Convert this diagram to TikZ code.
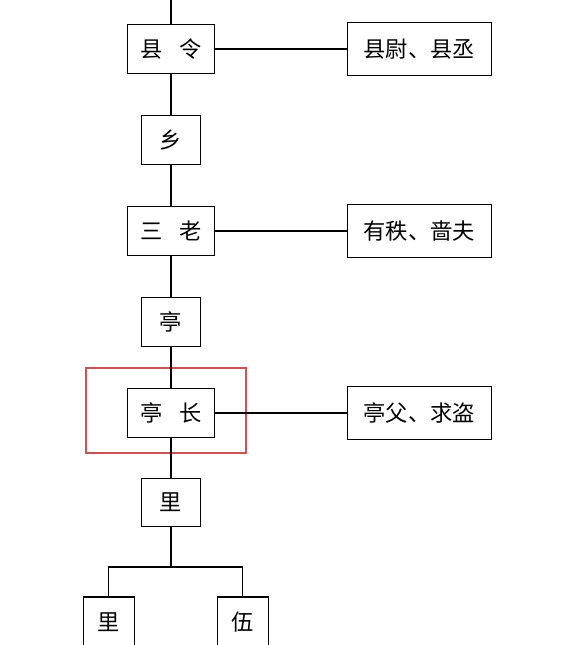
\documentclass[tikz,border=0pt]{standalone}
\usepackage{fontspec}
\setmainfont{Noto Sans CJK SC}
\definecolor{hired}{RGB}{205,82,82}
\tikzset{node distance=2.73cm, auto}
\tikzset{box/.style={draw, line width=1pt, inner sep=0pt, font=\fontsize{19pt}{22pt}\selectfont},
  wide/.style={box, minimum width=2.61cm, minimum height=1.46cm},
  narrow/.style={box, minimum width=1.77cm, minimum height=1.45cm},
  side/.style={box, minimum width=4.32cm, minimum height=1.6cm},
  hilite/.style={draw=hired, line width=2.2pt, minimum width=4.8cm, minimum height=2.55cm}}

\begin{document}
\begin{tikzpicture}[line width=1pt]
  \useasboundingbox (0,0) rectangle (16.8,-19.35);
  \clip (0,0) rectangle (16.8,-19.35);

  \node (mark) [hilite] at (4.98,-12.315) {};

  \node (xianling) [wide] at (5.13,-1.47) {县\hspace{0.75em}令};
  \node (xiang)[narrow, below of= xianling] {乡};
  \node (sanlao)[wide, below of= xiang] {三\hspace{0.75em}老};
  \node (ting)[narrow, below of= sanlao] {亭};
  \node (tingzhang)[wide, below of= ting] {亭\hspace{0.75em}长};
  \node (li)[narrow, below of= tingzhang, node distance=2.68cm] {里};

  \node (xianwei)[side, right of= xianling, node distance=7.45cm] {县尉、县丞};
  \node (youzhi)[side, right of= sanlao, node distance=7.45cm] {有秩、啬夫};
  \node (tingfu)[side, right of= tingzhang, node distance=7.45cm] {亭父、求盗};

  \node (lisub) [box, minimum width=1.53cm, minimum height=1.5cm] at (3.26,-18.66) {里};
  \node (wu) [box, minimum width=1.53cm, minimum height=1.5cm] at (7.28,-18.66) {伍};

  \coordinate (top) at (5.13,0);
  \coordinate (fork) at (5.13,-17.01);

  \draw (top) -- (xianling);
  \draw (xianling) -- (xiang);
  \draw (xiang) -- (sanlao);
  \draw (sanlao) -- (ting);
  \draw (ting) -- (tingzhang);
  \draw (tingzhang) -- (li);
  \draw (li) -- (fork);
  \draw (lisub) |- (fork) -| (wu);

  \draw (xianling) -- (xianwei);
  \draw (sanlao) -- (youzhi);
  \draw (tingzhang) -- (tingfu);
\end{tikzpicture}
\end{document}
